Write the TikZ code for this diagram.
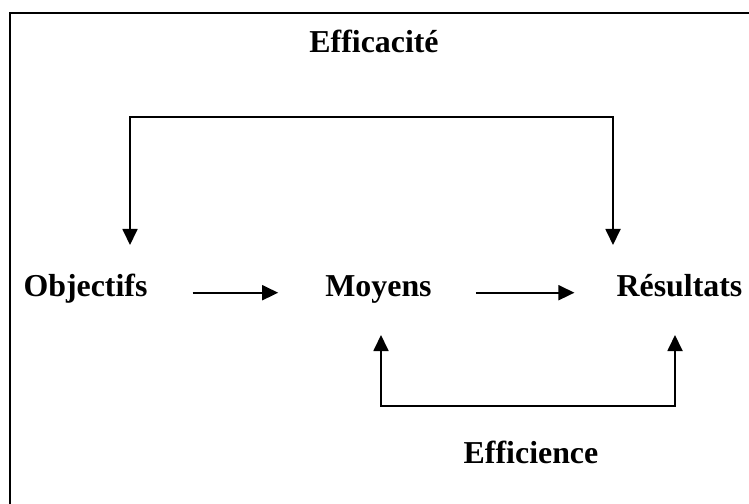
\documentclass[tikz,border=0pt]{standalone}
\usepackage{fontspec}
\setmainfont{Liberation Serif}
\usetikzlibrary{arrows.meta}
\tikzset{
  >={Triangle[length=16bp,width=15bp]},
  term/.style={font=\bfseries\fontsize{32}{36}\selectfont, inner sep=0pt, anchor=base},
  flow/.style={->, line width=1.8bp, line join=miter},
}
\begin{document}
\begin{tikzpicture}[x=1bp,y=-1bp]
  \useasboundingbox (0,0) rectangle (749,504);
  % frame
  \draw[line width=2.5bp] (10,504) -- (10,13) -- (749,13);
  \node[term] (Efficacite) at (374,53) {Efficacité};
  \node[term] (Objectifs) at (85.5,297) {Objectifs};
  \node[term] (Moyens) at (378.5,297) {Moyens};
  \node[term] (Resultats) at (679.5,297) {Résultats};
  \node[term] (Efficience) at (531,463) {Efficience};
  \coordinate (effL) at (130,245);
  \coordinate (effR) at (613,245);
  \coordinate (effTop) at (371,117);
  \coordinate (effiL) at (381,335);
  \coordinate (effiR) at (675,335);
  \coordinate (effiBot) at (528,406);
  \begin{scope}[flow]
    \draw ([yshift=2bp]Objectifs.mid east) -- ([yshift=2bp]Moyens.mid west) [shorten <=45bp, shorten >=47bp];
    \draw ([yshift=2bp]Moyens.mid east) -- ([yshift=2bp]Resultats.mid west) [shorten <=44bp, shorten >=42bp];
    \draw[<->] (effL) |- (effTop) -| (effR);
    \draw[<->] (effiL) |- (effiBot) -| (effiR);
  \end{scope}
\end{tikzpicture}
\end{document}
